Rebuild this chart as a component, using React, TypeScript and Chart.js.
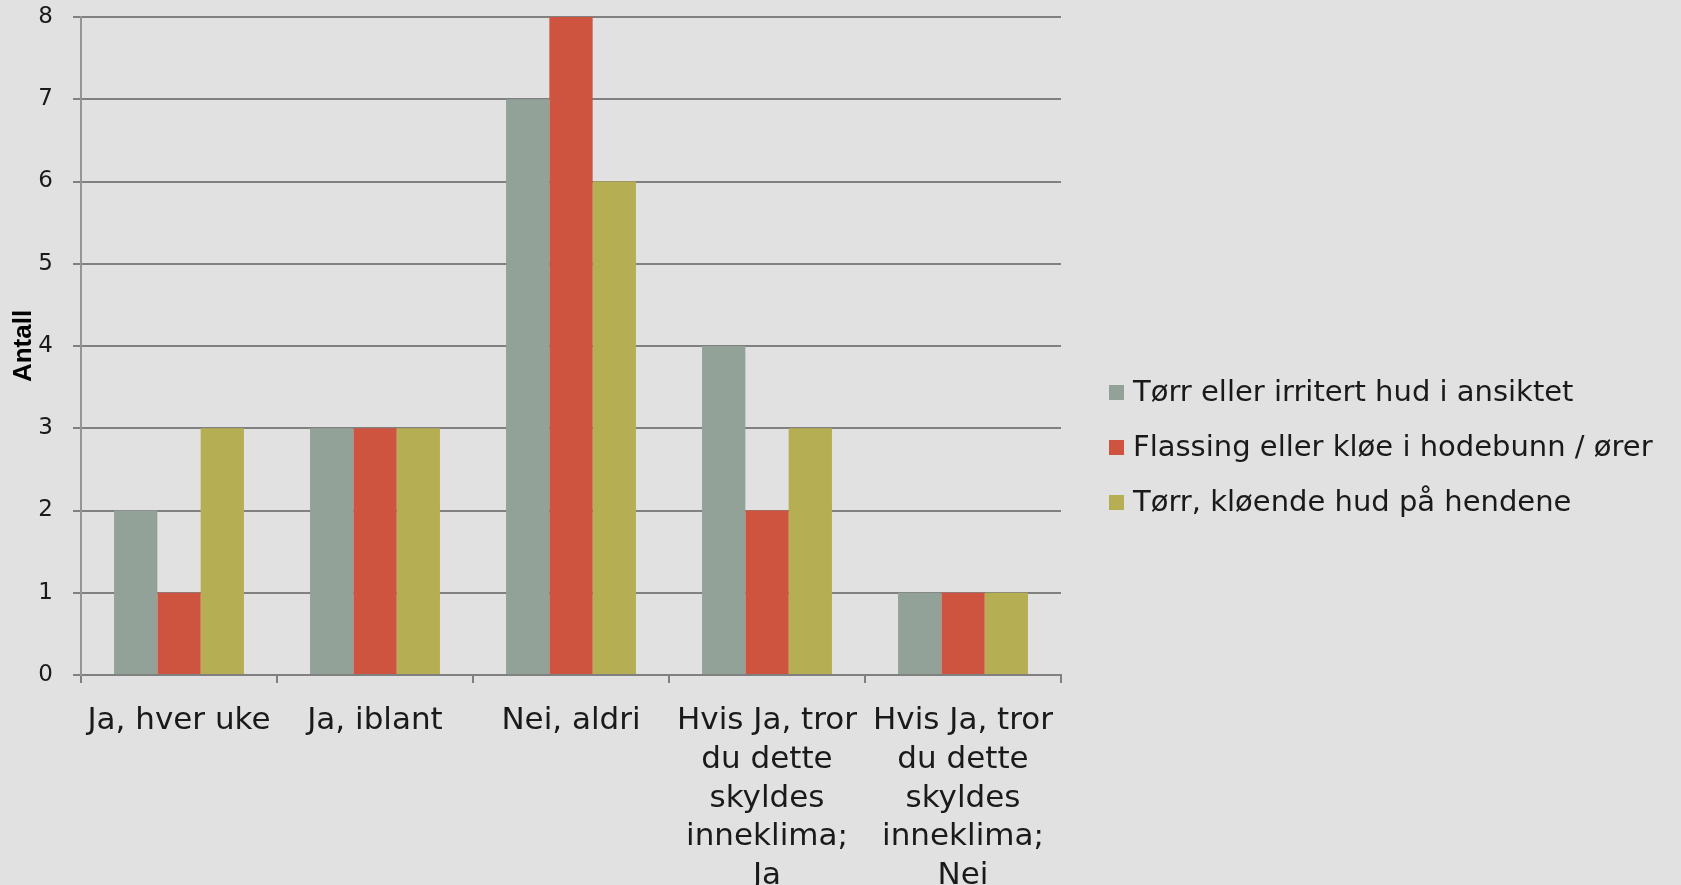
import React, { useEffect, useRef } from 'react';
import { Chart, registerables } from 'chart.js';

Chart.register(...registerables);

const categories: string[][] = [
  ['Ja, hver uke'],
  ['Ja, iblant'],
  ['Nei, aldri'],
  ['Hvis Ja, tror', 'du dette', 'skyldes', 'inneklima;', 'Ja'],
  ['Hvis Ja, tror', 'du dette', 'skyldes', 'inneklima;', 'Nei'],
];

const seriesNames = [
  'Tørr eller irritert hud i ansiktet',
  'Flassing eller kløe i hodebunn / ører',
  'Tørr, kløende hud på hendene',
];

const dryFace = [2, 3, 7, 4, 1];
const flakingScalp = [1, 3, 8, 2, 1];
const dryHands = [3, 3, 6, 3, 1];

const seriesColors = ['#93a299', '#cf543f', '#b5ae53'];

const yMin = 0;
const yMax = 8;
const yStep = 1;
const yTitle = 'Antall';

const FONT = '"DejaVu Sans", "Noto Sans", sans-serif';

// Legend to the right of the plot, drawn from the chart's own datasets
const sideLegend = {
  id: 'sideLegend',
  afterDraw(chart: any) {
    const { ctx, chartArea } = chart;
    const datasets = chart.data.datasets;
    const rowGap = 55;
    const box = 15;
    const x0 = chartArea.right + 48;
    const cy = chart.height / 2 + 5;
    ctx.save();
    ctx.font = `29px ${FONT}`;
    ctx.textBaseline = 'middle';
    ctx.textAlign = 'left';
    datasets.forEach((ds: any, i: number) => {
      const y = cy + (i - (datasets.length - 1) / 2) * rowGap;
      ctx.fillStyle = ds.backgroundColor;
      ctx.fillRect(x0, y - box / 2, box, box);
      ctx.fillStyle = '#1a1a1a';
      ctx.fillText(ds.label, x0 + box + 9, y + 1);
    });
    ctx.restore();
  },
};

export default function App() {
  const canvasRef = useRef<HTMLCanvasElement | null>(null);

  useEffect(() => {
    const canvas = canvasRef.current;
    if (!canvas) return;
    const values = [dryFace, flakingScalp, dryHands];
    const chart = new Chart(canvas, {
      type: 'bar',
      data: {
        labels: categories,
        datasets: seriesNames.map((name, i) => ({
          label: name,
          data: values[i],
          backgroundColor: seriesColors[i],
          borderWidth: 0,
          categoryPercentage: 0.663,
          barPercentage: 1.0,
        })),
      },
      plugins: [sideLegend],
      options: {
        animation: false,
        responsive: true,
        maintainAspectRatio: false,
        layout: {
          padding: { left: 11, right: 620, top: 0, bottom: -29 },
        },
        plugins: {
          tooltip: { enabled: false },
          legend: { display: false },
        },
        scales: {
          x: {
            grid: {
              display: true,
              drawOnChartArea: false,
              drawTicks: true,
              tickLength: 8,
              color: '#808080',
              lineWidth: 2,
            },
            border: { display: true, color: '#808080', width: 2 },
            ticks: {
              color: '#1a1a1a',
              font: { family: FONT, size: 31, lineHeight: 1.245 },
              padding: 19,
              maxRotation: 0,
              minRotation: 0,
              autoSkip: false,
            },
          },
          y: {
            min: yMin,
            max: yMax,
            afterFit: (scale: any) => {
              scale.width = 70;
              scale.paddingTop = 17;
            },
            grid: {
              color: '#808080',
              lineWidth: 2,
              tickLength: 8,
            },
            border: { display: true, color: '#959595', width: 2 },
            ticks: {
              stepSize: yStep,
              color: '#1a1a1a',
              font: { family: FONT, size: 23 },
              padding: 20,
            },
            title: {
              display: true,
              text: yTitle,
              color: '#000000',
              font: { family: '"Liberation Sans", Arial, sans-serif', size: 26, weight: 'bold', lineHeight: 1 },
              padding: { top: 0, bottom: 2 },
            },
          },
        },
      },
    });
    return () => chart.destroy();
  }, []);

  return (
    <div
      style={{
        position: 'fixed',
        left: 0,
        top: 0,
        width: 1681,
        height: 885,
        background: '#e1e1e1',
      }}
    >
      <canvas ref={canvasRef} />
    </div>
  );
}
